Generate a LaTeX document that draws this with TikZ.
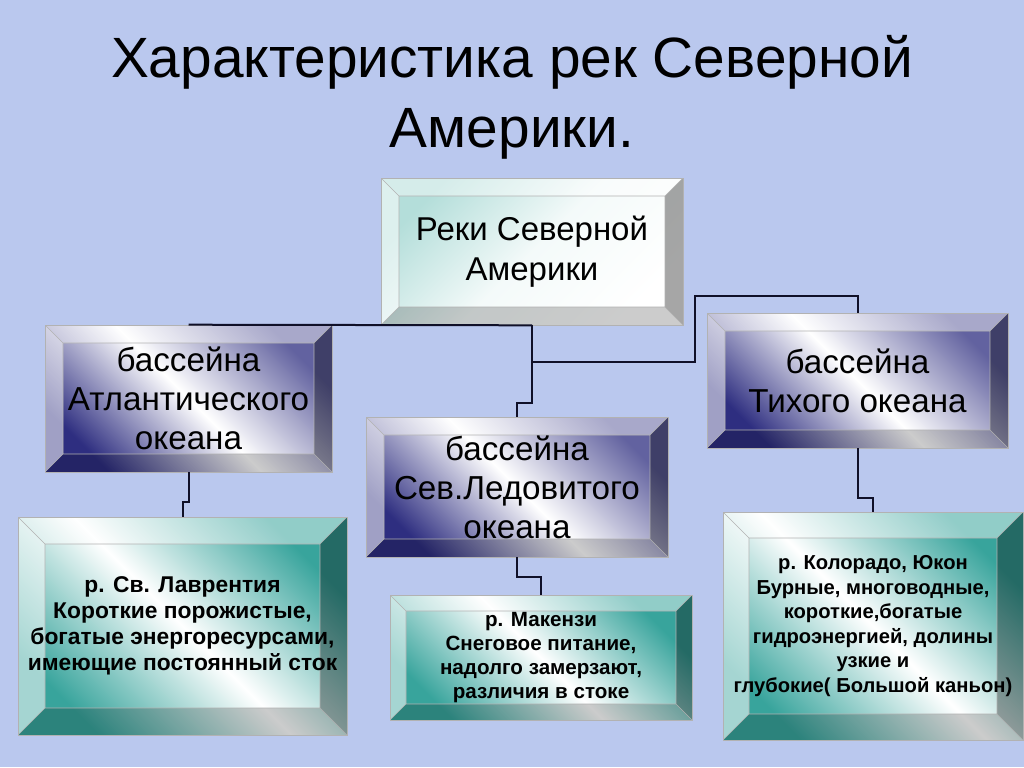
\documentclass[tikz,border=0pt]{standalone}
\usepackage{fontspec}
\setmainfont{Liberation Sans}
\usetikzlibrary{calc}
\definecolor{bgblue}{HTML}{BAC8EE}
\definecolor{navyb}{HTML}{2E2E80}
\definecolor{tealb}{HTML}{38A49C}
\definecolor{paleteal}{HTML}{B4DEDA}
\definecolor{linec}{HTML}{101028}

\begin{document}
\begin{tikzpicture}[x=0.5pt, y=-0.5pt,
  bevel/.style={path picture={
    \coordinate (p1) at (path picture bounding box.north west);
    \coordinate (p2) at (path picture bounding box.north east);
    \coordinate (p3) at (path picture bounding box.south east);
    \coordinate (p4) at (path picture bounding box.south west);
    \coordinate (q1) at ([shift={(#1,#1)}]p1);
    \coordinate (q2) at ([shift={(-#1,#1)}]p2);
    \coordinate (q3) at ([shift={(-#1,-#1)}]p3);
    \coordinate (q4) at ([shift={(#1,-#1)}]p4);
    \fill[white, opacity=.45] (p1) -- (p2) -- (q2) -- (q1) -- cycle;
    \fill[white, opacity=.55] (p1) -- (q1) -- (q4) -- (p4) -- cycle;
    \fill[black, opacity=.35] (p2) -- (p3) -- (q3) -- (q2) -- cycle;
    \fill[black, opacity=.2] (p4) -- (q4) -- (q3) -- (p3) -- cycle;
    \draw[gray!60, line width=.3pt] (q1) rectangle (q3) (p1) -- (q1) (p2) -- (q2) (p3) -- (q3) (p4) -- (q4);
  }},
  topbox/.style={top color=paleteal, bottom color=white, middle color=white!85!paleteal, shading angle=45, draw=gray!60, line width=.3pt, bevel=18, inner sep=0pt, align=center, font=\fontsize{16.5}{20}\selectfont},
  basin/.style={top color=navyb!75, bottom color=navyb, middle color=white, shading angle=-45, draw=gray!60, line width=.3pt, bevel=18, inner sep=0pt, align=center, font=\fontsize{16.6}{19.5}\selectfont},
  fact/.style={top color=tealb, bottom color=tealb, middle color=white, shading angle=-45, draw=gray!60, line width=.3pt, bevel=#1, inner sep=0pt, align=center},
  link/.style={draw=linec, line width=1pt}
]
\useasboundingbox (0,0) rectangle (1024,767);
\fill[bgblue] (0,0) rectangle (1024,767);
\node[font=\fontsize{28.4}{35}\selectfont, align=center] (title) at (512,97) {Характеристика рек Северной\\Америки.};

\node[topbox, minimum width=151pt, minimum height=73.5pt] (riv) at (532,251.5) {Реки Северной\\Америки};
\node[basin, minimum width=143.5pt, minimum height=73.5pt] (atl) at (188.5,398.5) {бассейна\\Атлантического\\океана};
\node[basin, minimum width=151pt, minimum height=70pt] (arc) at (517,487) {бассейна\\Сев.Ледовитого\\океана};
\node[basin, minimum width=150.5pt, minimum height=67.5pt] (pac) at (857.5,380.5) {бассейна\\Тихого океана};

\node[fact=27, minimum width=164.5pt, minimum height=109pt, font=\bfseries\fontsize{11.4}{13}\selectfont] (atlr) at (182.5,626) {р. Св. Лаврентия\\Короткие порожистые,\\богатые энергоресурсами,\\имеющие постоянный сток};
\node[fact=16, minimum width=151pt, minimum height=62.5pt, font=\bfseries\fontsize{10.3}{12}\selectfont] (arcr) at (541,657.5) {р. Макензи\\Снеговое питание,\\надолго замерзают,\\различия в стоке};
\node[fact=26, minimum width=150pt, minimum height=114pt, font=\bfseries\fontsize{10.1}{12.3}\selectfont] (pacr) at (873,626) {р. Колорадо, Юкон\\Бурные, многоводные,\\короткие,богатые\\гидроэнергией, долины\\узкие и\\глубокие( Большой каньон)};

\draw[link] (riv.south) -- (atl.north);
\draw[link] (riv.south) -- ++(0,78) -| (arc.north);
\draw[link] (riv.south) -- ++(0,37) -- ++(163,0) -- ++(0,-66) -| (pac.north);
\draw[link] (atl.south) -- ++(0,30) -| (atlr.north);
\draw[link] (arc.south) -- ++(0,20) -| (arcr.north);
\draw[link] (pac.south) -- ++(0,50) -| (pacr.north);
\end{tikzpicture}
\end{document}
